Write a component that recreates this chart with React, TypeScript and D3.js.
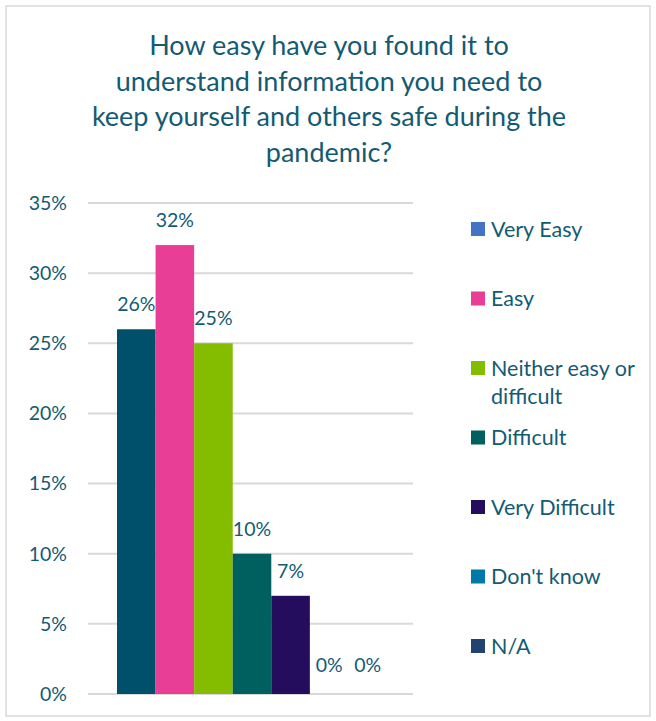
import React from "react";
import * as d3 from "d3";

const categories = ["Very Easy", "Easy", "Neither easy or difficult", "Difficult", "Very Difficult", "Don't know", "N/A"];
const values = [26, 32, 25, 10, 7, 0, 0];
const barColors = ["#00506B", "#E83E96", "#84BD00", "#005F5F", "#230D5C", "#0079A9", "#24426F"];
const legendColors = ["#4472C4", "#E83E96", "#84BD00", "#005F5F", "#230D5C", "#0079A9", "#24426F"];
const legendLines = [["Very Easy"], ["Easy"], ["Neither easy or", "difficult"], ["Difficult"], ["Very Difficult"], ["Don't know"], ["N/A"]];
const yTicks = [0, 5, 10, 15, 20, 25, 30, 35];
const titleLines = [
  "How easy have you found it to",
  "understand information you need to",
  "keep yourself and others safe during the",
  "pandemic?",
];

const textColor = "#135B73";
const font = "Lato, 'Open Sans', sans-serif";

const App: React.FC = () => {
  const width = 656;
  const height = 721;
  const plot = { left: 88, right: 413, top: 203, bottom: 694 };

  const y = d3.scaleLinear().domain([0, 35]).range([plot.bottom, plot.top]);
  const x = d3
    .scaleBand<string>()
    .domain(categories)
    .range([117, 387])
    .padding(0);

  const legendY = d3.scalePoint<string>().domain(categories).range([229, 646]);

  return (
    <svg
      width={width}
      height={height}
      style={{ position: "absolute", left: 0, top: 0, fontFamily: font }}
    >
      <rect x={0} y={0} width={width} height={height} fill="#fff" />
      <rect x={6} y={6} width={644} height={710} fill="#fff" stroke="#D9D9D9" strokeWidth={1.5} />

      {titleLines.map((t, i) => (
        <text
          key={i}
          x={329}
          y={55 + i * 35.5}
          textAnchor="middle"
          fontSize={27}
          fill={textColor}
        >
          {t}
        </text>
      ))}

      {yTicks.map((t) => (
        <g key={t}>
          <line x1={plot.left} x2={plot.right} y1={y(t)} y2={y(t)} stroke="#D9D9D9" strokeWidth={2} />
          <text x={67} y={y(t)} dy="0.35em" textAnchor="end" fontSize={19.5} fill={textColor}>
            {t}%
          </text>
        </g>
      ))}

      {categories.map((c, i) => (
        <g key={c}>
          <rect
            x={x(c)!}
            y={y(values[i])}
            width={x.bandwidth()}
            height={plot.bottom - y(values[i])}
            fill={barColors[i]}
          />
          <text
            x={x(c)! + x.bandwidth() / 2}
            y={y(values[i]) - (values[i] === 0 ? 22 : 18)}
            textAnchor="middle"
            fontSize={19.5}
            fill={textColor}
          >
            {values[i]}%
          </text>
        </g>
      ))}

      {categories.map((c, i) => (
        <g key={"lg" + c}>
          <rect x={471} y={legendY(c)! - 7} width={14} height={14} fill={legendColors[i]} />
          {legendLines[i].map((l, j) => (
            <text key={j} x={491} y={legendY(c)! + j * 28} dy="0.35em" fontSize={21.5} fill={textColor}>
              {l}
            </text>
          ))}
        </g>
      ))}
    </svg>
  );
};

export default App;
